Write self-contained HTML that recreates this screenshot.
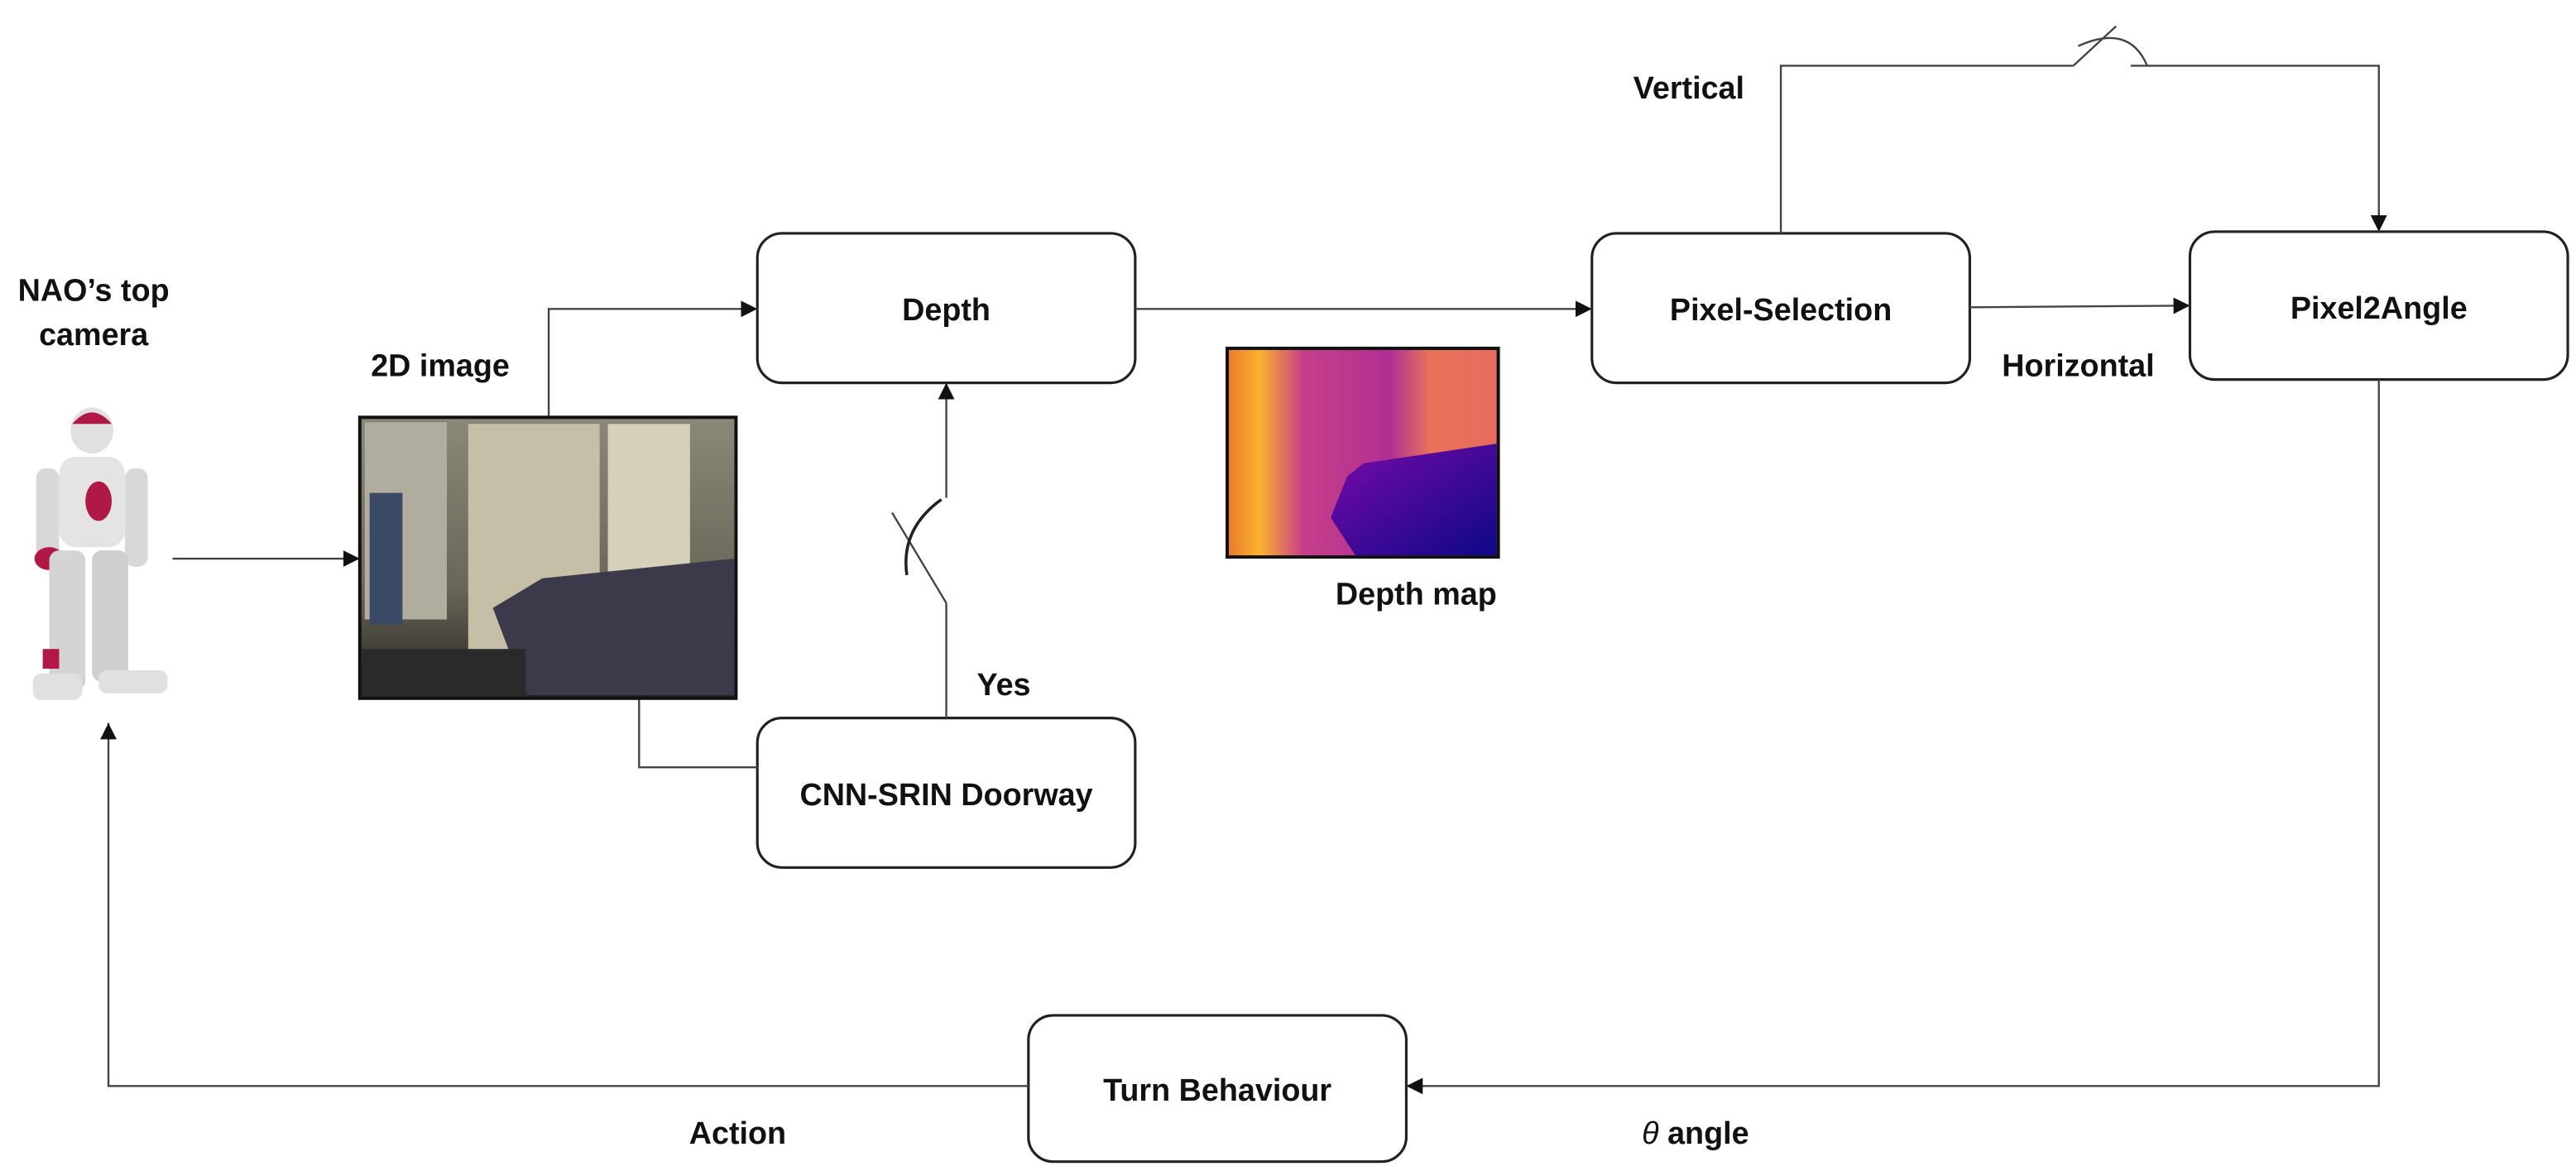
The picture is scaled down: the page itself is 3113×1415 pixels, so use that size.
<!DOCTYPE html>
<html><head><meta charset="utf-8"><style>
html,body{margin:0;padding:0;background:#fff;}
svg{display:block;}
text{font-family:"Liberation Sans Narrow","Liberation Sans",sans-serif;font-weight:bold;fill:#111;font-size:19px;}
</style></head><body>
<svg width="3113" height="1415" viewBox="0 0 1568 712.7" xmlns="http://www.w3.org/2000/svg">
<defs>
<marker id="ar" viewBox="0 0 10 10" refX="10" refY="5" markerWidth="10" markerHeight="10" markerUnits="userSpaceOnUse" orient="auto"><path d="M0,0 L10,5 L0,10 z" fill="#111"/></marker>
<linearGradient id="dm1" x1="0" y1="0" x2="1" y2="0">
<stop offset="0" stop-color="#e8782e"/><stop offset="0.12" stop-color="#fbb22c"/><stop offset="0.28" stop-color="#c73f8a"/><stop offset="0.6" stop-color="#b02f93"/><stop offset="0.75" stop-color="#e9735a"/><stop offset="1" stop-color="#e86b5e"/></linearGradient>
<linearGradient id="dm2" x1="0" y1="0" x2="1" y2="1"><stop offset="0" stop-color="#7a0aa8"/><stop offset="1" stop-color="#0d0887"/></linearGradient>
<linearGradient id="room" x1="0" y1="0" x2="0" y2="1"><stop offset="0" stop-color="#8c8878"/><stop offset="0.6" stop-color="#6b6758"/><stop offset="1" stop-color="#222"/></linearGradient>
</defs>
<g stroke="#444" stroke-width="1.2" fill="none">
<rect x="461" y="142" width="230" height="91" rx="15" stroke="#222" stroke-width="1.6"/>
<rect x="461" y="437" width="230" height="91" rx="15" stroke="#222" stroke-width="1.6"/>
<rect x="969" y="142" width="230" height="91" rx="15" stroke="#222" stroke-width="1.6"/>
<rect x="1333" y="141" width="230" height="90" rx="15" stroke="#222" stroke-width="1.6"/>
<rect x="626" y="618" width="230" height="89" rx="15" stroke="#222" stroke-width="1.6"/>
<line x1="105" y1="340" x2="219" y2="340" marker-end="url(#ar)"/>
<polyline points="334,254 334,188 461,188" marker-end="url(#ar)"/>
<line x1="691" y1="188" x2="969" y2="188" marker-end="url(#ar)"/>
<line x1="1199" y1="187" x2="1333" y2="186" marker-end="url(#ar)"/>
<polyline points="1084,142 1084,40 1262,40"/>
<line x1="1262" y1="40" x2="1288" y2="16"/>
<path d="M1265,28 Q1296,14 1307,40"/>
<polyline points="1297,40 1448,40 1448,141" marker-end="url(#ar)"/>
<polyline points="1448,231 1448,661 856,661" marker-end="url(#ar)"/>
<polyline points="626,661 66,661 66,440" marker-end="url(#ar)"/>
<polyline points="389,425 389,467 461,467"/>
<line x1="576" y1="437" x2="576" y2="367"/>
<line x1="576" y1="367" x2="543" y2="312"/>
<path d="M573,304 Q548,322 552,350" stroke-width="1.8" stroke="#222"/>
<line x1="576" y1="303" x2="576" y2="233" marker-end="url(#ar)"/>
</g>
<!-- 2D image -->
<rect x="219" y="254" width="229" height="171" fill="url(#room)" stroke="#111" stroke-width="2"/>
<rect x="222" y="257" width="50" height="120" fill="#b0ad9e"/>
<rect x="225" y="300" width="20" height="80" fill="#3a4a66"/>
<rect x="285" y="258" width="80" height="150" fill="#c5bfa8"/>
<rect x="370" y="258" width="50" height="130" fill="#d6d0bb"/>
<path d="M300,370 L330,352 L447,340 L447,423 L320,423 Z" fill="#3c3a4a"/>
<rect x="220" y="395" width="100" height="29" fill="#2a2a2a"/>
<!-- depth map -->
<rect x="747" y="212" width="165" height="127" fill="url(#dm1)" stroke="#111" stroke-width="2"/>
<path d="M820,290 L830,282 L911,270 L911,338 L825,338 L810,315 Z" fill="url(#dm2)"/>
<!-- robot -->
<g>
<ellipse cx="56" cy="262" rx="13" ry="14" fill="#e0e0e0"/>
<path d="M44,258 Q56,244 68,258 Z" fill="#b01845"/>
<rect x="36" y="278" width="40" height="55" rx="10" fill="#e4e4e4"/>
<ellipse cx="60" cy="305" rx="8" ry="12" fill="#b01845"/>
<rect x="22" y="285" width="14" height="55" rx="6" fill="#d8d8d8"/>
<rect x="76" y="285" width="14" height="60" rx="6" fill="#d8d8d8"/>
<ellipse cx="30" cy="340" rx="9" ry="7" fill="#b01845"/>
<rect x="30" y="335" width="22" height="85" rx="6" fill="#d4d4d4"/>
<rect x="56" y="335" width="22" height="80" rx="6" fill="#cfcfcf"/>
<rect x="20" y="410" width="30" height="16" rx="5" fill="#e0e0e0"/>
<rect x="60" y="408" width="42" height="14" rx="5" fill="#e0e0e0"/>
<rect x="26" y="395" width="10" height="12" fill="#b01845"/>
</g>
<text x="576" y="195" text-anchor="middle">Depth</text>
<text x="576" y="490" text-anchor="middle">CNN-SRIN Doorway</text>
<text x="1084" y="195" text-anchor="middle">Pixel-Selection</text>
<text x="1448" y="194" text-anchor="middle">Pixel2Angle</text>
<text x="741" y="670" text-anchor="middle">Turn Behaviour</text>
<text x="57" y="183" text-anchor="middle">NAO’s top</text>
<text x="57" y="210" text-anchor="middle">camera</text>
<text x="268" y="229" text-anchor="middle">2D image</text>
<text x="611" y="423" text-anchor="middle">Yes</text>
<text x="862" y="368" text-anchor="middle">Depth map</text>
<text x="1028" y="60" text-anchor="middle">Vertical</text>
<text x="1265" y="229" text-anchor="middle">Horizontal</text>
<text x="1032" y="696" text-anchor="middle"><tspan font-style="italic" font-weight="normal">θ</tspan> angle</text>
<text x="449" y="696" text-anchor="middle">Action</text>
</svg>
</body></html>
